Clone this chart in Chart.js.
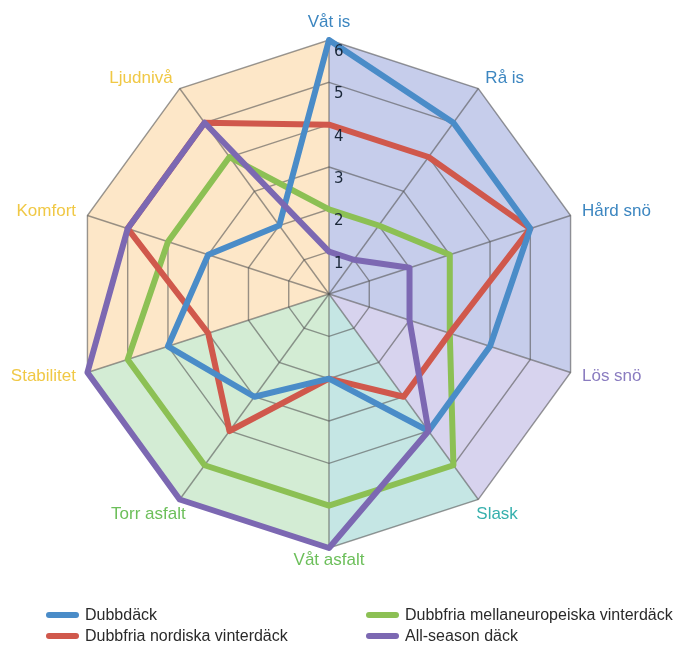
<!DOCTYPE html>
<html>
<head>
<meta charset="utf-8">
<script src="https://cdn.jsdelivr.net/npm/chart.js@4.4.1/dist/chart.umd.min.js"></script>
<style>
  html, body { margin: 0; padding: 0; background: #ffffff; }
  #wrap { position: relative; width: 674px; height: 646px; overflow: hidden; }
  #c { position: absolute; left: 0; top: 0; }
  .lg-item { position: absolute; display: flex; align-items: center; height: 20px;
             font: 16px 'Liberation Sans', Arial, sans-serif; color: #2a2a2a; white-space: nowrap; }
  .lg-swatch { width: 33px; height: 6px; border-radius: 3px; margin-right: 6px; }
</style>
</head>
<body>
<div id="wrap">
  <canvas id="c" width="674" height="646"></canvas>
  <div id="legend"></div>
</div>
<script>
// Axes of the radar, clockwise from the top
const categories = ['Våt is', 'Rå is', 'Hård snö', 'Lös snö', 'Slask',
                    'Våt asfalt', 'Torr asfalt', 'Stabilitet', 'Komfort', 'Ljudnivå'];

// Ratings 0–6 per tyre type
const dubbdack      = [6, 5, 5, 4, 4, 2, 3, 4, 3, 2];
const nordiska      = [4, 4, 5, 3, 3, 2, 4, 3, 5, 5];
const mellaneuropa  = [2, 2, 3, 3, 5, 5, 5, 5, 4, 4];
const allSeason     = [1, 1, 2, 2, 4, 6, 6, 6, 5, 5];

const seriesNames = ['Dubbdäck', 'Dubbfria nordiska vinterdäck',
                     'Dubbfria mellaneuropeiska vinterdäck', 'All-season däck'];

const tickValues = [1, 2, 3, 4, 5, 6];

// Colours
const lineColors  = ['#4a8cc8', '#d0584c', '#8cc054', '#7c68b2'];
const labelColors = ['#3c86c0', '#3c86c0', '#3c86c0', '#8a7cc0', '#36b0ad',
                     '#6cbf5a', '#6cbf5a', '#f0c845', '#f0c845', '#f0c845'];
// Background wedges between axis indices (wrapping at the end)
const sectors = [
  { from: 0, to: 3,  color: '#c6cdeb' },
  { from: 3, to: 4,  color: '#d7d3ee' },
  { from: 4, to: 5,  color: '#c5e6e4' },
  { from: 5, to: 7,  color: '#d3ecd4' },
  { from: 7, to: 10, color: '#fde7c8' }
];

const sectorPlugin = {
  id: 'sectorFill',
  beforeDraw(chart) {
    const s = chart.scales.r;
    const ctx = chart.ctx;
    const n = categories.length;
    const max = s.max;
    ctx.save();
    sectors.forEach(sec => {
      ctx.beginPath();
      ctx.moveTo(s.xCenter, s.yCenter);
      for (let i = sec.from; i <= sec.to; i++) {
        const p = s.getPointPositionForValue(i % n, max);
        ctx.lineTo(p.x, p.y);
      }
      ctx.closePath();
      ctx.fillStyle = sec.color;
      ctx.fill();
    });
    ctx.restore();
  }
};

const labelPlugin = {
  id: 'radarText',
  afterDatasetsDraw(chart) {
    const s = chart.scales.r;
    const ctx = chart.ctx;
    ctx.save();
    // ring values along the top axis
    ctx.font = '15px "DejaVu Sans", sans-serif';
    ctx.fillStyle = '#1a2738';
    ctx.textAlign = 'left';
    ctx.textBaseline = 'middle';
    tickValues.forEach(v => {
      const p = s.getPointPositionForValue(0, v);
      ctx.fillText(String(v), p.x + 5, p.y + 12);
    });
    // axis names around the outside
    ctx.font = '17px "Liberation Sans", Arial, sans-serif';
    categories.forEach((name, i) => {
      const v = s.getPointPositionForValue(i, s.max);
      const p = s.getPointPosition(i, s.drawingArea + 12);
      const dx = Math.cos(p.angle), dy = Math.sin(p.angle);
      let x = p.x, y = p.y, align;
      if (dx > 0.2) align = 'left';
      else if (dx < -0.2) align = 'right';
      else align = 'center';
      if (dy < -0.9) y -= 6;
      if (dy > 0.7 && Math.abs(dx) > 0.2) {
        x = v.x + (dx > 0 ? -2 : 6);
        y = v.y + 15;
      }
      ctx.textAlign = align;
      ctx.fillStyle = labelColors[i];
      ctx.fillText(name, x, y);
    });
    ctx.restore();
  }
};

const seriesData = [dubbdack, nordiska, mellaneuropa, allSeason];
const drawOrder = [2, 3, 4, 1]; // lower order is drawn on top

const chart = new Chart(document.getElementById('c'), {
  type: 'radar',
  data: {
    labels: categories,
    datasets: seriesData.map((d, k) => ({
      label: seriesNames[k],
      data: d,
      borderColor: lineColors[k],
      backgroundColor: 'rgba(0,0,0,0)',
      borderWidth: 6,
      borderJoinStyle: 'round',
      borderCapStyle: 'round',
      pointRadius: 0,
      pointHoverRadius: 0,
      fill: false,
      order: drawOrder[k]
    }))
  },
  options: {
    responsive: false,
    animation: false,
    devicePixelRatio: 1,
    layout: { padding: { left: 75, right: 91, top: 40, bottom: 98 } },
    plugins: { legend: { display: false }, tooltip: { enabled: false } },
    scales: {
      r: {
        min: 0,
        max: 6,
        ticks: { stepSize: 1, display: false },
        pointLabels: { display: false },
        grid: { color: 'rgba(85,85,85,0.6)', lineWidth: 1.4 },
        angleLines: { color: 'rgba(85,85,85,0.6)', lineWidth: 1.4 }
      }
    }
  },
  plugins: [sectorPlugin, labelPlugin]
});

// Two-column legend built from the datasets
const legendPos = [
  { left: 46, top: 605 }, { left: 46, top: 626 },
  { left: 366, top: 605 }, { left: 366, top: 626 }
];
const legendEl = document.getElementById('legend');
chart.data.datasets.forEach((ds, k) => {
  const item = document.createElement('div');
  item.className = 'lg-item';
  item.style.left = legendPos[k].left + 'px';
  item.style.top = legendPos[k].top + 'px';
  const sw = document.createElement('span');
  sw.className = 'lg-swatch';
  sw.style.background = ds.borderColor;
  const tx = document.createElement('span');
  tx.textContent = ds.label;
  item.appendChild(sw);
  item.appendChild(tx);
  legendEl.appendChild(item);
});
</script>
</body>
</html>
